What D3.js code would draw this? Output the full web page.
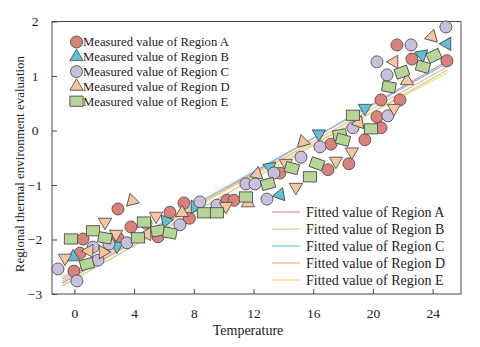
<!DOCTYPE html>
<html>
<head>
<meta charset="utf-8">
<script src="https://cdn.jsdelivr.net/npm/d3@7/dist/d3.min.js"></script>
<style>
body { margin: 0; background: #fff; }
svg { display: block; }
text { font-family: "Liberation Serif", "Times New Roman", serif; fill: #222; }
</style>
</head>
<body>
<svg id="chart" width="480" height="347"></svg>
<script>

const xA = [-0.03, 0.38, 0.58, 2.92, 2.92, 3.79, 5.6, 6.4, 7.34, 7.7, 10.22, 10.69, 13.77, 16.99, 17.19, 18.39, 19.46, 20.54, 20.27, 20.54, 21.81, 22.61, 21.61, 24.96] ;
const yA = [-2.58, -2.25, -1.99, -1.44, -1.97, -1.77, -1.95, -1.5, -1.33, -1.61, -1.28, -1.28, -0.78, -0.72, -0.25, -0.61, -0.17, 0.05, 0.25, 0.56, 0.56, 1.31, 1.57, 1.28] ;

const xB = [-0.09, 2.85, 6.14, 8.08, 13.1, 13.77, 16.38, 19.46, 23.28, 24.96] ;
const yB = [-2.32, -2.12, -1.66, -1.4, -0.67, -1.18, -0.06, 0.41, 1.39, 1.59] ;

const xC = [-1.1, 0.17, 1.25, 1.58, 2.32, 3.52, 4.8, 7.07, 8.41, 9.55, 11.49, 12.1, 12.9, 13.37, 15.18, 16.45, 18.66, 21.0, 20.94, 20.27, 22.55, 24.89] ;
const yC = [-2.54, -2.76, -2.14, -2.38, -2.08, -2.06, -1.7, -1.73, -1.31, -1.37, -0.98, -0.98, -1.26, -0.78, -0.49, -0.3, 0.05, 0.27, 1.02, 1.26, 1.57, 1.9] ;

const xD = [-0.63, 0.98, 1.92, 2.05, 2.79, 3.86, 4.86, 5.47, 7.21, 10.15, 11.63, 12.23, 14.17, 14.84, 15.31, 17.52, 18.59, 19.06, 21.41, 22.28, 21.41, 23.95] ;
const yD = [-2.34, -2.21, -2.23, -1.68, -1.9, -1.29, -1.9, -1.57, -1.51, -1.39, -1.33, -0.8, -0.6, -1.04, -0.21, -0.56, -0.39, 0.14, 0.41, 0.91, 1.26, 1.72] ;

const xE = [-0.23, 0.84, 1.25, 2.05, 4.26, 4.66, 5.6, 6.4, 8.68, 9.55, 11.49, 12.97, 14.57, 15.78, 16.25, 17.79, 17.99, 18.66, 19.87, 21.07, 21.94, 23.35, 24.09] ;
const yE = [-1.99, -2.45, -1.84, -1.97, -1.97, -1.68, -1.84, -1.88, -1.51, -1.51, -1.22, -0.98, -0.69, -0.85, -0.61, -0.08, -0.17, 0.28, 0.03, 0.8, 1.07, 1.17, 1.37] ;

// fitted lines: value at the first and last temperature
const fitX = [-0.8, 25] ;
const fitStart = [-2.80, -2.85, -2.72, -2.76, -2.68] ;
const fitEnd = [1.28, 1.11, 1.24, 1.17, 1.06] ;

const measuredNames = ["Measured value of Region A", "Measured value of Region B", "Measured value of Region C", "Measured value of Region D", "Measured value of Region E"] ;
const fittedNames = ["Fitted value of Region A", "Fitted value of Region B", "Fitted value of Region C", "Fitted value of Region D", "Fitted value of Region E"] ;

const xTicks = [0, 4, 8, 12, 16, 20, 24] ;
const yTicks = [-3, -2, -1, 0, 1, 2] ;

// styling
const fills = ["#d9817a", "#62c0d4", "#c9bfdd", "#f6c6a3", "#b8d598"] ;
const lineColors = ["#ea9490", "#bcd98f", "#7fc6e6", "#f8b891", "#f8d67a"] ;
const shapes = ["circle", "triangle", "circle", "triangle", "square"] ;
// marker turns (degrees), the picture has them tumbled
const turnB = [0, 180, 200, -30, -70, 20, -60, 180, 170, 150] ;
const turnD = [180, -90, -30, 180, 180, -15, -90, 180, 0, 180, 0, 10, 180, 180, -15, 180, 180, 20, 180, 0, -90, 15] ;
const turnE = [0, -15, 0, 10, 0, 0, -10, 10, 0, 0, 0, -15, 15, 0, 20, -10, 15, 0, 0, 10, -20, 15, -25] ;

const svg = d3.select("#chart") ;
const plotL = 52, plotR = 461, plotT = 21.5, plotB = 294 ;

const x = d3.scaleLinear().domain([-1.5, 25.9]).range([plotL, plotR]) ;
const y = d3.scaleLinear().domain([-3, 2]).range([plotB, plotT]) ;

const series = [
	{ xs: xA, ys: yA, turn: null },
	{ xs: xB, ys: yB, turn: turnB },
	{ xs: xC, ys: yC, turn: null },
	{ xs: xD, ys: yD, turn: turnD },
	{ xs: xE, ys: yE, turn: turnE }
] ;

function triPath(s) {
	const h = s * Math.sqrt(3) / 2 ;
	return "M0," + (-h*2/3) + "L" + (s/2) + "," + (h/3) + "L" + (-s/2) + "," + (h/3) + "Z" ;
}

function drawMarker(g, shape, i, cx, cy, turn) {
	if( shape === "circle" ) {
		g.append("circle")
			.attr("cx", cx).attr("cy", cy).attr("r", 6)
			.attr("fill", fills[i]).attr("stroke", "#505050").attr("stroke-width", 0.9) ;
	} else if( shape === "triangle" ) {
		g.append("path")
			.attr("d", triPath(13.2))
			.attr("transform", "translate(" + cx + "," + cy + ") rotate(" + (turn||0) + ")")
			.attr("fill", fills[i]).attr("stroke", "#505050").attr("stroke-width", 0.9) ;
	} else {
		g.append("rect")
			.attr("x", -6.6).attr("y", -5.1).attr("width", 13.2).attr("height", 10.2)
			.attr("transform", "translate(" + cx + "," + cy + ") rotate(" + (turn||0) + ")")
			.attr("fill", fills[i]).attr("stroke", "#505050").attr("stroke-width", 0.9) ;
	}
}

// frame
svg.append("rect")
	.attr("x", plotL).attr("y", plotT)
	.attr("width", plotR-plotL).attr("height", plotB-plotT)
	.attr("fill", "none").attr("stroke", "#4a4a4a").attr("stroke-width", 1) ;

// axes, ticks pointing inward
const gx = svg.append("g")
	.attr("transform", "translate(0," + plotB + ")")
	.call(d3.axisBottom(x).tickValues(xTicks).tickSize(-5).tickPadding(14).tickSizeOuter(0)) ;
const gy = svg.append("g")
	.attr("transform", "translate(" + plotL + ",0)")
	.call(d3.axisLeft(y).tickValues(yTicks).tickSize(-5).tickPadding(11).tickSizeOuter(0).tickFormat(d3.format("d"))) ;
[gx, gy].forEach(function(g) {
	g.select(".domain").remove() ;
	g.selectAll("line").attr("stroke", "#4a4a4a") ;
	g.selectAll("text").style("font-size", "13.5px").attr("fill", "#222") ;
}) ;
gy.selectAll("text").attr("text-anchor", "middle").attr("x", -17) ;

// fitted lines
const line = d3.line().x(function(d) { return x(d[0]) ; }).y(function(d) { return y(d[1]) ; }) ;
for( let i=0 ; i<5 ; i++ ) {
	svg.append("path")
		.attr("d", line([[fitX[0], fitStart[i]], [fitX[1], fitEnd[i]]]))
		.attr("fill", "none").attr("stroke", lineColors[i]).attr("stroke-width", 1.3) ;
}

// measured points
const pts = svg.append("g") ;
series.forEach(function(s, i) {
	for( let k=0 ; k<s.xs.length ; k++ ) {
		drawMarker(pts, shapes[i], i, x(s.xs[k]), y(s.ys[k]), s.turn ? s.turn[k] : 0) ;
	}
}) ;

// legend, measured
const leg1 = svg.append("g") ;
measuredNames.forEach(function(n, i) {
	const ly = 42 + i*14.8 ;
	drawMarker(leg1, shapes[i], i, 76.5, ly, 0) ;
	leg1.append("text").attr("x", 83).attr("y", ly).attr("dy", "0.35em")
		.style("font-size", "12.7px").text(n) ;
}) ;

// legend, fitted
const leg2 = svg.append("g") ;
fittedNames.forEach(function(n, i) {
	const ly = 212 + i*17 ;
	leg2.append("line").attr("x1", 272).attr("x2", 300).attr("y1", ly).attr("y2", ly)
		.attr("stroke", lineColors[i]).attr("stroke-width", 1.3) ;
	leg2.append("text").attr("x", 306).attr("y", ly).attr("dy", "0.35em")
		.style("font-size", "14px").text(n) ;
}) ;

// axis titles
svg.append("text").attr("x", 248).attr("y", 330).attr("dy", "0.35em")
	.attr("text-anchor", "middle").style("font-size", "14px").text("Temperature") ;
svg.append("text")
	.attr("transform", "translate(19,164) rotate(-90)")
	.attr("text-anchor", "middle").attr("dy", "0.35em")
	.style("font-size", "13px").text("Regional thermal environment evaluation") ;

</script>
</body>
</html>
